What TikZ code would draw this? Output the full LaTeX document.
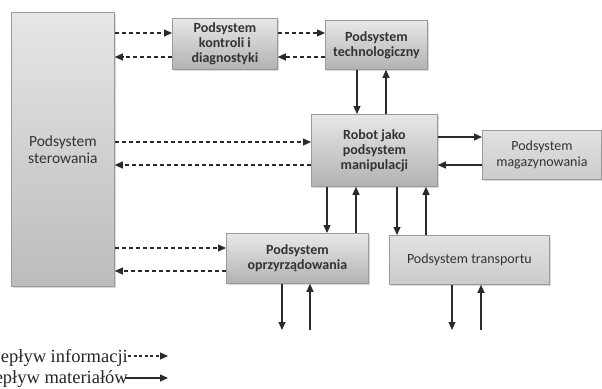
\documentclass[tikz,border=0pt]{standalone}
\usepackage{fontspec}
\setmainfont{Liberation Serif}
\newfontfamily\boxfont{Carlito}
\usetikzlibrary{arrows.meta,shadows}
\definecolor{linec}{HTML}{2A2A2A}
\definecolor{txtc}{HTML}{333333}
\definecolor{bord}{HTML}{9A9A9A}
\definecolor{gtop}{HTML}{E8E8E8}
\definecolor{gbot}{HTML}{B2B2B2}
\definecolor{stop}{HTML}{E6E6E6}
\definecolor{sbot}{HTML}{BCBCBC}
\definecolor{ltop}{HTML}{E2E2E2}
\definecolor{lbot}{HTML}{CBCBCB}
\begin{document}
\begin{tikzpicture}[x=1pt,y=-1pt,
  box/.style={draw=bord, line width=0.8pt, top color=gtop, bottom color=gbot,
    anchor=north west, inner sep=0pt, align=center, text=txtc,
    font=\boxfont\bfseries\fontsize{14}{15}\selectfont,
    drop shadow={shadow xshift=1.5pt, shadow yshift=-1.5pt, opacity=0.3, fill=gray}},
  plainbox/.style={box, top color=ltop, bottom color=lbot,
    font=\boxfont\fontsize{14}{16}\selectfont},
  info/.style={draw=linec, line width=1.1pt, dash pattern=on 4pt off 3pt,
    -{Triangle[length=8pt,width=7pt]}},
  mat/.style={draw=linec, line width=1.1pt, -{Triangle[length=8pt,width=7pt]}},
  legend/.style={inner sep=0pt, font=\fontsize{18.5}{22}\selectfont, text=black!85}]
\useasboundingbox (0,0) rectangle (602,388);

% boxes
\node[box, top color=stop, bottom color=sbot, minimum width=103pt, minimum height=274pt,
  font=\boxfont\fontsize{15.5}{17}\selectfont] (ster) at (11,12) {Podsystem\\sterowania};
\node[box, minimum width=105pt, minimum height=51pt] (kon) at (172,18) {Podsystem\\kontroli i\\diagnostyki};
\node[box, minimum width=102pt, minimum height=49pt] (tech) at (325,20) {Podsystem\\technologiczny};
\node[box, minimum width=126pt, minimum height=72pt] (rob) at (311,114) {Robot jako\\podsystem\\manipulacji};
\node[plainbox, minimum width=119pt, minimum height=49pt] (mag) at (482,130) {Podsystem\\magazynowania};
\node[box, minimum width=142pt, minimum height=50pt] (opr) at (226,233) {Podsystem\\oprzyrządowania};
\node[plainbox, minimum width=160pt, minimum height=49pt] (tra) at (389,235) {Podsystem transportu};

% helper levels
\coordinate (h1) at (0,33);
\coordinate (h2) at (0,57);
\coordinate (h3) at (0,142);
\coordinate (h4) at (0,165);
\coordinate (h5) at (0,137);
\coordinate (h6) at (0,248);
\coordinate (h7) at (0,271);
\coordinate (v1) at (357,0);
\coordinate (v2) at (386,0);
\coordinate (v3) at (327,0);
\coordinate (v4) at (356,0);
\coordinate (v5) at (397,0);
\coordinate (v6) at (426,0);
\coordinate (e7) at (282,330);
\coordinate (e8) at (310,330);
\coordinate (e9) at (452,330);
\coordinate (e10) at (481,330);

% information flows
\draw[info] (ster.east |- h1) -- (kon.west |- h1);
\draw[info] (kon.west |- h2) -- (ster.east |- h2);
\draw[info] (kon.east |- h1) -- (tech.west |- h1);
\draw[info] (tech.west |- h2) -- (kon.east |- h2);
\draw[info] (ster.east |- h3) -- (rob.west |- h3);
\draw[info] (rob.west |- h4) -- (ster.east |- h4);
\draw[info] (ster.east |- h6) -- (opr.west |- h6);
\draw[info] (opr.west |- h7) -- (ster.east |- h7);

% material flows
\draw[mat] (tech.south -| v1) -- (rob.north -| v1);
\draw[mat] (rob.north -| v2) -- (tech.south -| v2);
\draw[mat] (rob.east |- h5) -- (mag.west |- h5);
\draw[mat] (mag.west |- h4) -- (rob.east |- h4);
\draw[mat] (rob.south -| v3) -- (opr.north -| v3);
\draw[mat] (opr.north -| v4) -- (rob.south -| v4);
\draw[mat] (rob.south -| v5) -- (tra.north -| v5);
\draw[mat] (tra.north -| v6) -- (rob.south -| v6);
\draw[mat] (opr.south -| e7) -- (e7);
\draw[mat] (e8) -- (opr.south -| e8);
\draw[mat] (tra.south -| e9) -- (e9);
\draw[mat] (e10) -- (tra.south -| e10);

% legend
\node[legend, anchor=base east] (l1) at (128,362) {epływ informacji};
\node[legend, anchor=base east] (l2) at (128,383) {epływ materiałów};
\coordinate (l1a) at (168,356);
\coordinate (l2a) at (168,378);
\draw[info, dash pattern=on 3pt off 2.5pt] (l1.base east |- l1a) -- (l1a);
\draw[mat] ([xshift=-3pt]l2.base east |- l2a) -- (l2a);
\end{tikzpicture}
\end{document}
